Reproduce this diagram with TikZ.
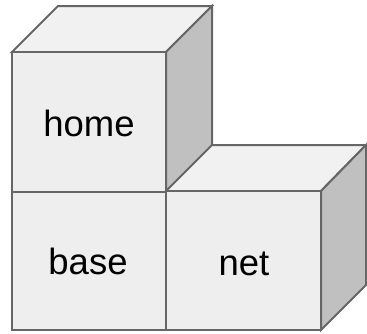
\documentclass[tikz,border=0pt]{standalone}
\usepackage{fontspec}
\setmainfont{Liberation Sans}
\definecolor{frontc}{HTML}{EEEEEE}
\definecolor{topc}{HTML}{F1F1F1}
\definecolor{sidec}{HTML}{C0C0C0}
\definecolor{edgec}{HTML}{666666}
\begin{document}
\begin{tikzpicture}[x=1pt,y=-1pt,
  face/.style={draw=edgec,line width=2pt,line join=miter},
  front/.style={face,fill=frontc},
  topf/.style={face,fill=topc},
  side/.style={face,fill=sidec},
  lbl/.style={font=\fontsize{36.5}{42}\selectfont,text=black,inner sep=0pt,anchor=base}]
\useasboundingbox (0,0) rectangle (367,333);
% home cube
\draw[topf] (12,52) -- (58,6) -- (212,6) -- (166,52) -- cycle;
\draw[side] (166,52) -- (212,6) -- (212,146) -- (166,192) -- cycle;
\draw[front] (12,52) rectangle (166,192);
% base cube
\draw[front] (12,192) rectangle (166,330);
% net cube
\draw[topf] (166,191) -- (212,145) -- (366,145) -- (321,191) -- cycle;
\draw[side] (321,191) -- (366,145) -- (366,285) -- (321,330) -- cycle;
\draw[front] (166,191) rectangle (321,330);
\node[lbl] (home) at (89,136) {home};
\node[lbl] (base) at (88,274) {base};
\node[lbl] (net) at (244,275) {net};
\end{tikzpicture}
\end{document}
